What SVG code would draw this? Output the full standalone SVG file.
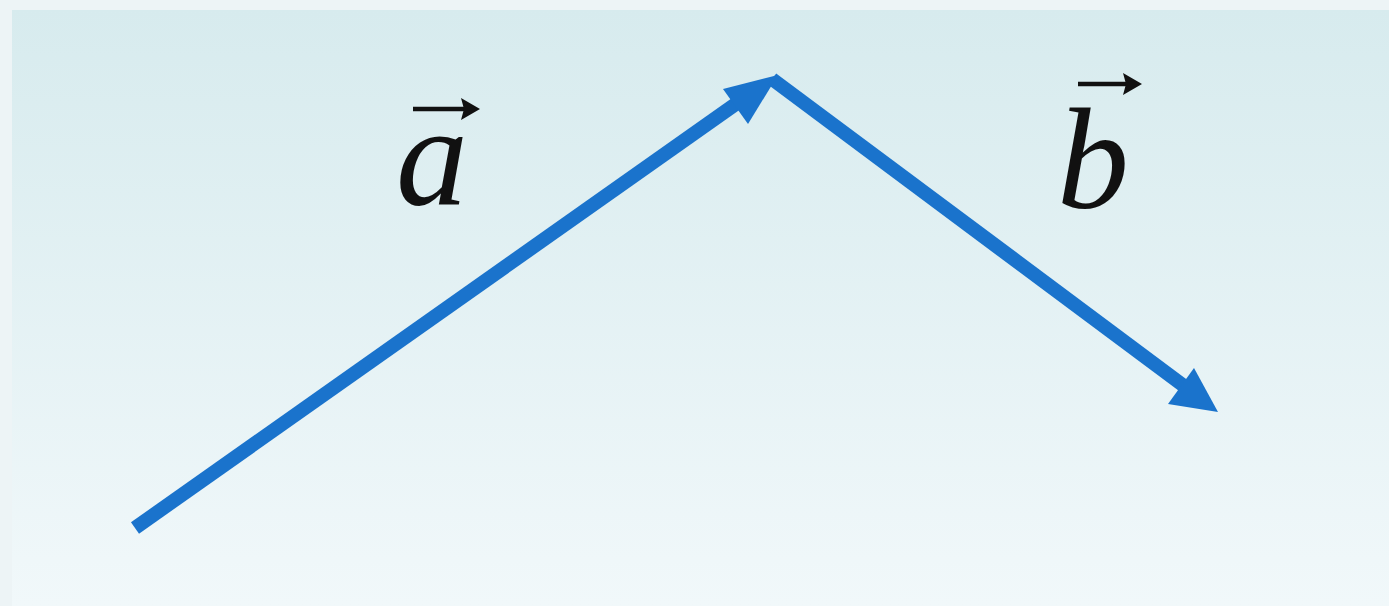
<svg xmlns="http://www.w3.org/2000/svg" width="1389" height="606" viewBox="0 0 1389 606">
<defs>
<linearGradient id="bg" x1="0" y1="0" x2="0" y2="1">
<stop offset="0" stop-color="#d7ebee"/>
<stop offset="1" stop-color="#f1f8fa"/>
</linearGradient>
<style>
.vec{stroke:#1a73cc;stroke-width:14;fill:none}
.head{fill:#1a73cc}
.lbl{font-family:"Liberation Serif",serif;font-style:italic;font-size:144px;fill:#111}
.ov{stroke:#111;stroke-width:4.5;fill:none}
.ovh{fill:#111}
</style>
</defs>
<rect width="1389" height="606" fill="#edf4f6"/>
<rect x="12" y="10" width="1377" height="596" fill="url(#bg)"/>
<g id="connectors">
<line class="vec" x1="135" y1="528" x2="740" y2="101"/>
<polygon class="head" points="778,75 723,89 748,124"/>
<line class="vec" x1="772" y1="79" x2="1188" y2="389"/>
<polygon class="head" points="1218,412 1194,368 1168,404"/>
</g>
<g id="label-a">
<text class="lbl" x="396" y="205">a</text>
<line class="ov" x1="413" y1="109" x2="464" y2="109"/>
<polygon class="ovh" points="480,109 461,98 464,109 461,120"/>
</g>
<g id="label-b">
<text class="lbl" x="1057" y="208">b</text>
<line class="ov" x1="1078" y1="84" x2="1126" y2="84"/>
<polygon class="ovh" points="1142,84 1123,73 1126,84 1123,95"/>
</g>
</svg>
